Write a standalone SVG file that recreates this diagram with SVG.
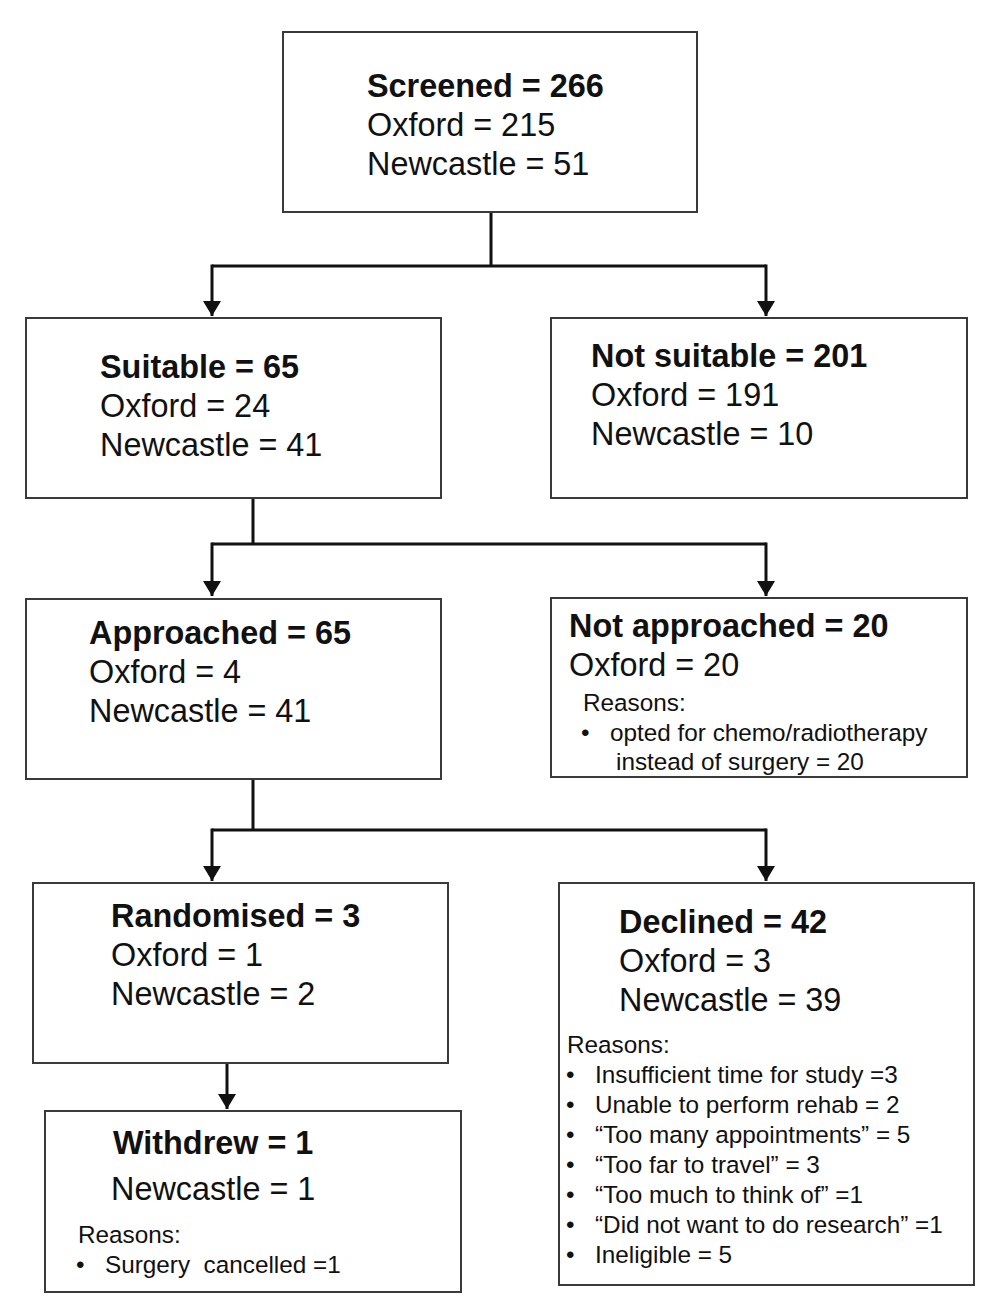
<svg xmlns="http://www.w3.org/2000/svg" width="1000" height="1308" viewBox="0 0 1000 1308">
<style>
.box{fill:#fff;stroke:#3a3a3a;stroke-width:2}
.t{font-family:"Liberation Sans",Arial,sans-serif;font-size:32.4px;fill:#111}
.b{font-weight:bold}
.s{font-family:"Liberation Sans",Arial,sans-serif;font-size:24.3px;fill:#111}
.ln{fill:none;stroke:#111;stroke-width:3}
</style>
<defs>
<marker id="ah" markerWidth="6" markerHeight="6" refX="5" refY="3" orient="auto" markerUnits="strokeWidth"><path d="M0,0 L5,3 L0,6 z" fill="#111"/></marker>
</defs>
<g id="connectors">
<path class="ln" d="M491,213 V266 M212,266 H766"/>
<path class="ln" d="M212,264.5 V316" marker-end="url(#ah)"/>
<path class="ln" d="M766,264.5 V316" marker-end="url(#ah)"/>
<path class="ln" d="M253,499 V544 M212,544 H766"/>
<path class="ln" d="M212,542.5 V596" marker-end="url(#ah)"/>
<path class="ln" d="M766,542.5 V596" marker-end="url(#ah)"/>
<path class="ln" d="M253,780 V830 M212,830 H766"/>
<path class="ln" d="M212,828.5 V881" marker-end="url(#ah)"/>
<path class="ln" d="M766,828.5 V881" marker-end="url(#ah)"/>
<path class="ln" d="M227,1064 V1109" marker-end="url(#ah)"/>
</g>
<g id="screened">
<rect class="box" x="283" y="32" width="414" height="180"/>
<text class="t b" x="367" y="97">Screened = 266</text>
<text class="t" x="367" y="136">Oxford = 215</text>
<text class="t" x="367" y="175">Newcastle = 51</text>
</g>
<g id="suitable">
<rect class="box" x="26" y="318" width="415" height="180"/>
<text class="t b" x="100" y="378">Suitable = 65</text>
<text class="t" x="100" y="417">Oxford = 24</text>
<text class="t" x="100" y="456">Newcastle = 41</text>
</g>
<g id="notsuitable">
<rect class="box" x="551" y="318" width="416" height="180"/>
<text class="t b" x="591" y="367">Not suitable = 201</text>
<text class="t" x="591" y="406">Oxford = 191</text>
<text class="t" x="591" y="445">Newcastle = 10</text>
</g>
<g id="approached">
<rect class="box" x="26" y="599" width="415" height="180"/>
<text class="t b" x="89" y="644">Approached = 65</text>
<text class="t" x="89" y="683">Oxford = 4</text>
<text class="t" x="89" y="722">Newcastle = 41</text>
</g>
<g id="notapproached">
<rect class="box" x="551" y="598" width="416" height="179"/>
<text class="t b" x="569" y="637">Not approached = 20</text>
<text class="t" x="569" y="676">Oxford = 20</text>
<text class="s" x="583" y="711">Reasons:</text>
<text class="s" x="581" y="741">•</text>
<text class="s" x="610" y="741">opted for chemo/radiotherapy</text>
<text class="s" x="616" y="770">instead of surgery = 20</text>
</g>
<g id="randomised">
<rect class="box" x="33" y="883" width="415" height="180"/>
<text class="t b" x="111" y="927">Randomised = 3</text>
<text class="t" x="111" y="966">Oxford = 1</text>
<text class="t" x="111" y="1005">Newcastle = 2</text>
</g>
<g id="declined">
<rect class="box" x="559" y="883" width="415" height="402"/>
<text class="t b" x="619" y="933">Declined = 42</text>
<text class="t" x="619" y="972">Oxford = 3</text>
<text class="t" x="619" y="1011">Newcastle = 39</text>
<text class="s" x="567" y="1053">Reasons:</text>
<text class="s" x="566" y="1083">•</text><text class="s" x="595" y="1083">Insufficient time for study =3</text>
<text class="s" x="566" y="1113">•</text><text class="s" x="595" y="1113">Unable to perform rehab = 2</text>
<text class="s" x="566" y="1143">•</text><text class="s" x="595" y="1143">“Too many appointments” = 5</text>
<text class="s" x="566" y="1173">•</text><text class="s" x="595" y="1173">“Too far to travel” = 3</text>
<text class="s" x="566" y="1203">•</text><text class="s" x="595" y="1203">“Too much to think of” =1</text>
<text class="s" x="566" y="1233">•</text><text class="s" x="595" y="1233">“Did not want to do research” =1</text>
<text class="s" x="566" y="1263">•</text><text class="s" x="595" y="1263">Ineligible = 5</text>
</g>
<g id="withdrew">
<rect class="box" x="45" y="1111" width="416" height="181"/>
<text class="t b" x="113" y="1154">Withdrew = 1</text>
<text class="t" x="111" y="1200">Newcastle = 1</text>
<text class="s" x="78" y="1243">Reasons:</text>
<text class="s" x="76" y="1273">•</text><text class="s" x="105" y="1273" style="white-space:pre">Surgery  cancelled =1</text>
</g>
</svg>
